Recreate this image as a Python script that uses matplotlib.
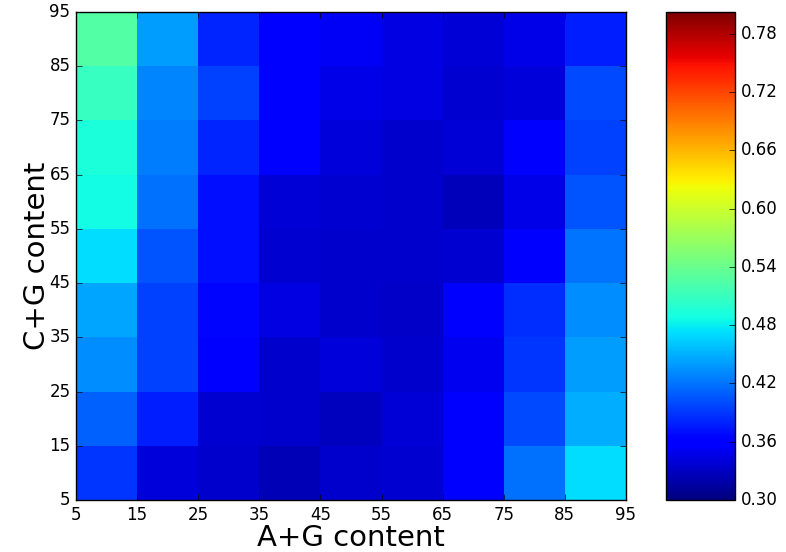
import numpy as np
import matplotlib
matplotlib.use("Agg")
import matplotlib.pyplot as plt

ag_edges = [5, 15, 25, 35, 45, 55, 65, 75, 85, 95]
cg_edges = [5, 15, 25, 35, 45, 55, 65, 75, 85, 95]

# rows: C+G bins from 5-15 (bottom) to 85-95 (top); columns: A+G bins 5-15 .. 85-95
row_5 = [0.390, 0.341, 0.334, 0.325, 0.334, 0.337, 0.357, 0.418, 0.472]
row_15 = [0.410, 0.378, 0.337, 0.334, 0.328, 0.339, 0.355, 0.400, 0.448]
row_25 = [0.433, 0.395, 0.362, 0.334, 0.341, 0.334, 0.350, 0.390, 0.440]
row_35 = [0.445, 0.395, 0.365, 0.344, 0.334, 0.332, 0.360, 0.386, 0.433]
row_45 = [0.472, 0.405, 0.370, 0.337, 0.334, 0.334, 0.337, 0.355, 0.420]
row_55 = [0.488, 0.418, 0.370, 0.339, 0.337, 0.334, 0.327, 0.346, 0.405]
row_65 = [0.493, 0.425, 0.382, 0.355, 0.341, 0.334, 0.339, 0.360, 0.395]
row_75 = [0.510, 0.429, 0.395, 0.358, 0.346, 0.344, 0.336, 0.341, 0.400]
row_85 = [0.526, 0.440, 0.382, 0.358, 0.352, 0.344, 0.338, 0.346, 0.378]

vals = np.array([row_5, row_15, row_25, row_35, row_45, row_55, row_65, row_75, row_85])

plt.style.use("classic")
fig = plt.figure(figsize=(7.86, 5.52), dpi=100)
fig.patch.set_facecolor("white")
ax = fig.add_axes([0.0967, 0.0942, 0.6997, 0.8841])
cax = fig.add_axes([0.847, 0.0942, 0.088, 0.8841])

mesh = ax.pcolormesh(ag_edges, cg_edges, vals, cmap="jet", vmin=0.30, vmax=0.8026)
ax.set_xlim(5, 95)
ax.set_ylim(5, 95)
ax.set_xticks(ag_edges)
ax.set_yticks(cg_edges)
ax.tick_params(labelsize=12, direction="in", top=True, right=True)
ax.set_xlabel("A+G content", fontsize=21, labelpad=0)
ax.set_ylabel("C+G content", fontsize=21, labelpad=-1)

cb = fig.colorbar(mesh, cax=cax)
cb.set_ticks([0.30, 0.36, 0.42, 0.48, 0.54, 0.60, 0.66, 0.72, 0.78])
cb.ax.tick_params(labelsize=12, direction="in")

fig.savefig("out.png", dpi=100, facecolor="white")
